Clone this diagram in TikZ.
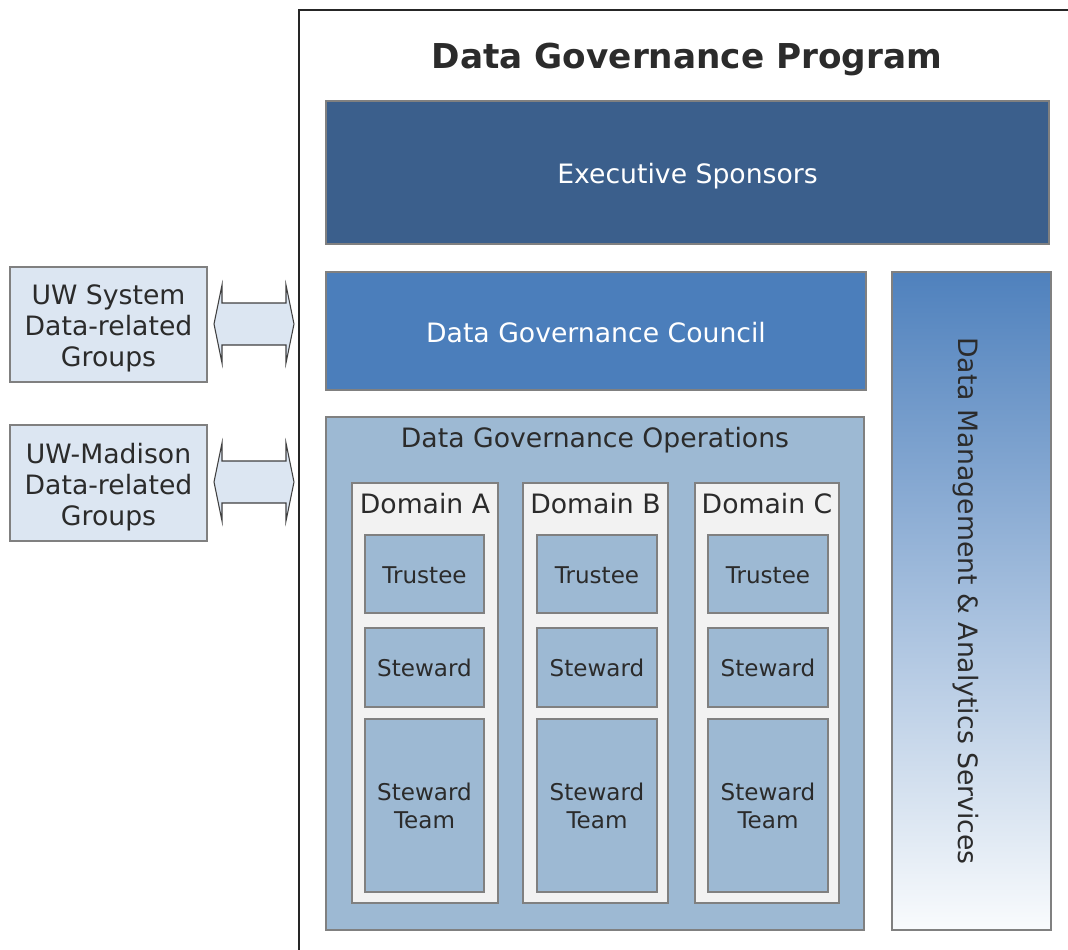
\documentclass[tikz,border=0pt]{standalone}
\usepackage{fontspec}
\setmainfont{DejaVu Sans}
\usetikzlibrary{fit,shadows}
\definecolor{execC}{HTML}{3B5F8C}
\definecolor{counC}{HTML}{4B7EBB}
\definecolor{opsC}{HTML}{9DB9D3}
\definecolor{domC}{HTML}{F2F2F2}
\definecolor{grpC}{HTML}{DCE6F2}
\definecolor{gradTop}{HTML}{4F81BD}
\definecolor{gradBot}{HTML}{F9FBFD}
\definecolor{edgeC}{HTML}{808080}
\definecolor{txtC}{HTML}{2B2B2B}
\begin{document}
\begin{tikzpicture}[x=0.75pt,y=-0.75pt,
  panel/.style={draw=edgeC,line width=0.8pt,inner sep=0pt,
     drop shadow={shadow xshift=0.8pt,shadow yshift=-0.8pt,opacity=0.35}},
  bigtxt/.style={font=\fontsize{20}{23.25}\selectfont,align=center,inner sep=0pt},
  smtxt/.style={font=\fontsize{17.3}{21}\selectfont,align=center,inner sep=0pt,text=txtC},
  arr/.style={draw=black!75,line width=0.8pt,fill=grpC}
]
\useasboundingbox (0,0) rectangle (1068,950);
\clip (0,0) rectangle (1068,950);

% outer program frame
\draw[line width=1.8pt,black!85] (299,970) -- (299,10) -- (1090,10);
\node[font=\bfseries\fontsize{25.7}{30}\selectfont,text=txtC,inner sep=0pt,yshift=-2.2pt] (title) at (687,57) {Data Governance Program};

% executive sponsors
\node[panel,fill=execC,fit={(326,101)(1049,244)}] (exec) {};
\node[bigtxt,text=white,yshift=-2.6pt] (execT) at (exec.center) {Executive Sponsors};

% council
\node[panel,fill=counC,fit={(326,272)(866,390)}] (coun) {};
\node[bigtxt,text=white,yshift=-1.5pt] (counT) at (coun.center) {Data Governance Council};

% data management & analytics services
\node[panel,top color=gradTop,bottom color=gradBot,fit={(892,272)(1051,930)}] (dmas) {};
\node[bigtxt,text=txtC,rotate=-90] (dmasT) at (966,601) {Data Management \& Analytics Services};

% operations
\node[panel,fill=opsC,fit={(326,417)(864,930)}] (ops) {};
\node[bigtxt,text=txtC,yshift=-1.5pt] (opsT) at (595,438) {Data Governance Operations};

% domains
\foreach \n/\xa/\xb/\ia/\ib/\lab in {A/352/498/365/484/Domain A, B/523/668/537/657/Domain B, C/695/839/708/828/Domain C}{
  \node[panel,fill=domC,fit={(\xa,483)(\xb,903)}] (dom\n) {};
  \node[bigtxt,text=txtC,yshift=-15.8pt] (dom\n T) at (dom\n.north) {\lab};
  \node[panel,fill=opsC,fit={(\ia,535)(\ib,613)}] (tru\n) {};
  \node[smtxt,yshift=-0.8pt] (tru\n T) at (tru\n.center) {Trustee};
  \node[panel,fill=opsC,fit={(\ia,628)(\ib,707)}] (ste\n) {};
  \node[smtxt] (ste\n T) at (ste\n.center) {Steward};
  \node[panel,fill=opsC,fit={(\ia,719)(\ib,892)}] (team\n) {};
  \node[smtxt] (team\n T) at (team\n.center) {Steward\\Team};
}

% external groups
\node[panel,fill=grpC,fit={(10,267)(207,382)}] (uws) {};
\node[bigtxt,text=txtC,yshift=-3pt] (uwsT) at (uws.center) {UW System\\Data-related\\Groups};
\node[panel,fill=grpC,fit={(10,425)(207,541)}] (uwm) {};
\node[bigtxt,text=txtC,yshift=-3pt] (uwmT) at (uwm.center) {UW-Madison\\Data-related\\Groups};

% double arrows
\foreach \yc/\nm in {324/a1, 482/a2}{
  \coordinate (\nm L) at (214,\yc);
  \coordinate (\nm R) at (294,\yc);
  \draw[arr] (\nm L) -- ++(8,-39) -- ++(0,18) -- ++(64,0) -- ++(0,-18) -- (\nm R)
     -- ++(-8,39) -- ++(0,-18) -- ++(-64,0) -- ++(0,18) -- cycle;
}
\end{tikzpicture}
\end{document}
